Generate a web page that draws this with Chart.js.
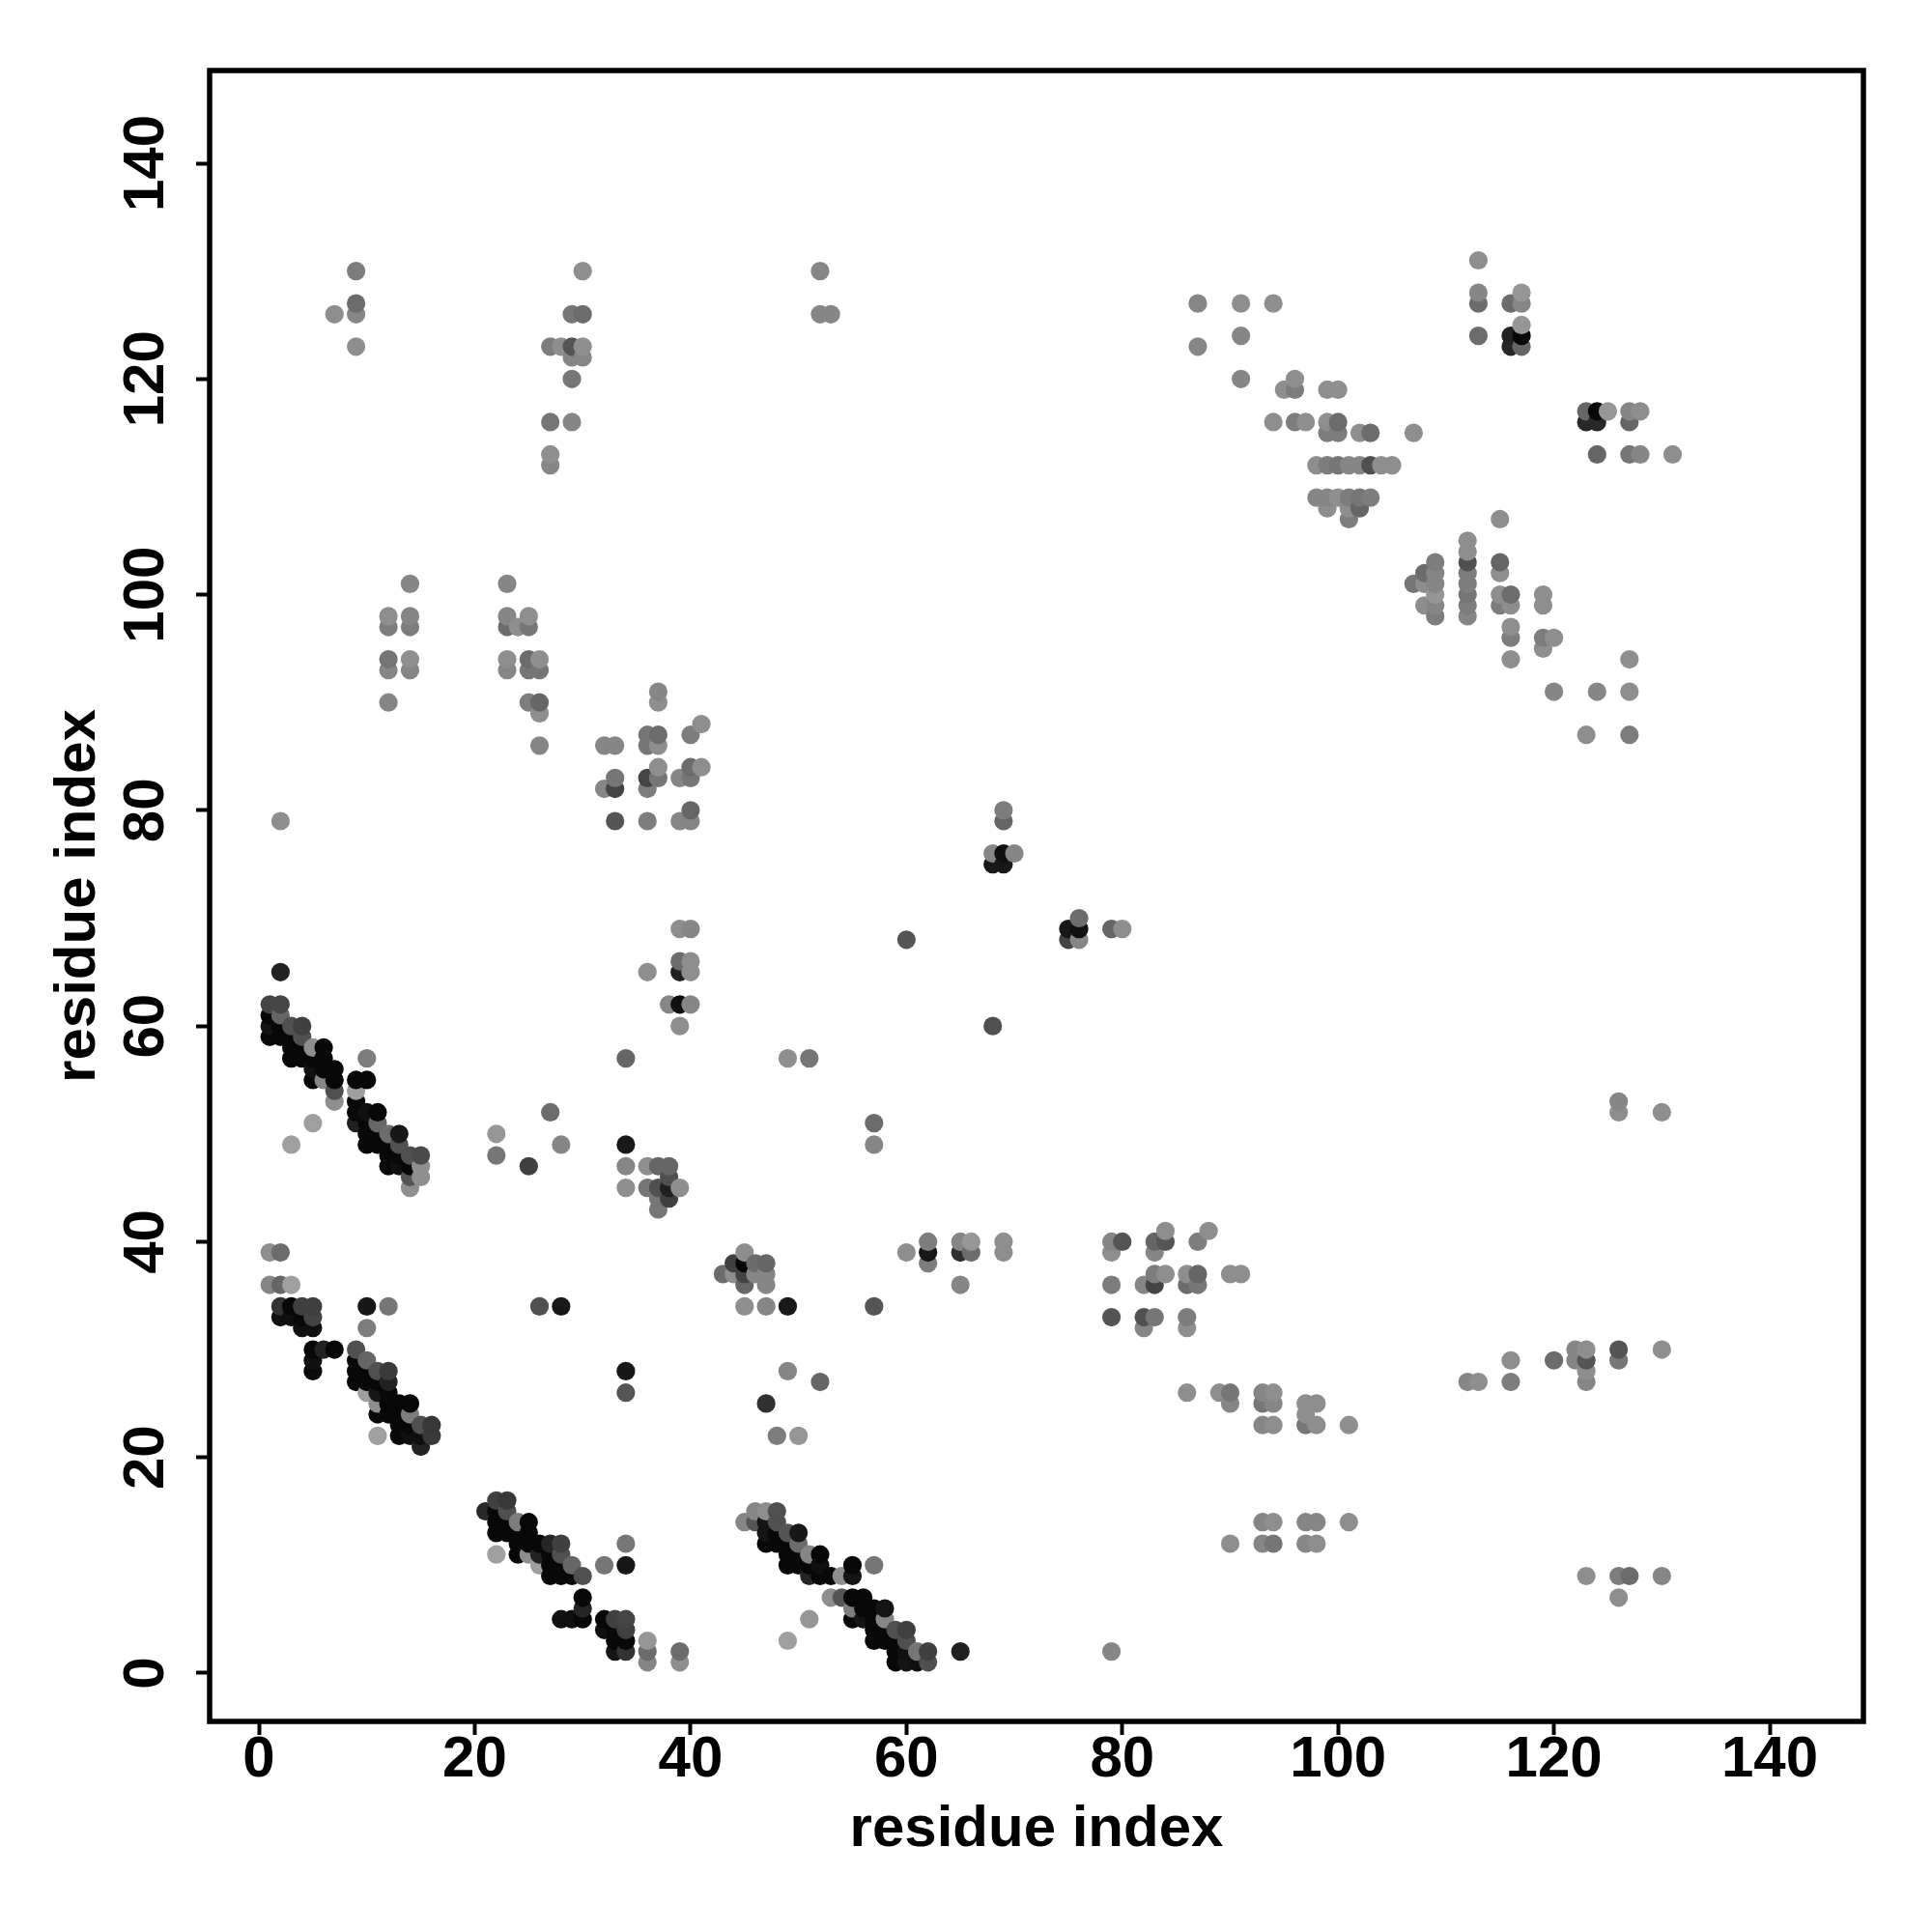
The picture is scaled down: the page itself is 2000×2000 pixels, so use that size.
<!DOCTYPE html>
<html><head><meta charset="utf-8">
<style>html,body{margin:0;padding:0;background:#fff}canvas{display:block}</style>
<script src="https://cdn.jsdelivr.net/npm/chart.js@4"></script></head>
<body><div style="width:2000px;height:2000px"><canvas id="c" width="2000" height="2000"></canvas></div>
<script>
// each entry: [residue i, residue j, grey level]
const helixA=[[2,65,0x22],[1,62,0x45],[2,62,0x45],[2,61,0x60],[1,61,8],[1,60,0x14],[1,59,8],[2,60,8],[2,59,8],[3,60,0x50],[4,60,0x40],[4,59,0x50],[3,59,8],[3,58,8],[3,57,8],[4,58,8],[4,57,8],[5,58,0x88],[6,58,8],[6,57,8],[5,57,8],[6,56,8],[5,56,0x11],[5,55,8],[6,55,0x80],[7,56,8],[7,55,8],[7,54,0x50],[7,53,0x88]];
const helixB=[[10,57,0x77],[9,55,8],[10,55,8],[9,54,0x99],[9,53,8],[9,52,8],[9,51,0x20],[10,52,0x10],[11,52,8],[10,51,8],[11,51,0x60],[10,50,8],[10,49,8],[11,50,8],[11,49,8],[12,50,0x66],[13,50,0x18],[13,49,0x50],[12,49,8],[12,48,8],[12,47,8],[13,48,8],[13,47,0x10],[14,48,0x50],[15,48,0x4a],[14,47,8],[15,47,0x88],[14,46,0x55],[15,46,0x88],[14,45,0x88],[5,51,0x99],[3,49,0x99],[22,50,0x90],[22,48,0x70]];
const helixC=[[1,39,0x88],[2,39,0x66],[1,36,0x80],[2,36,0x60],[3,36,0x99],[2,34,0x33],[3,34,8],[4,34,0x40],[5,34,0x40],[2,33,0x10],[3,33,0x10],[4,33,8],[5,33,0x44],[4,32,0x10],[5,32,0x10],[5,30,8],[6,30,0x22],[7,30,8],[5,29,0x11],[5,28,0x0a],[10,34,0x18],[12,34,0x70],[10,32,0x77]];
const helixD=[[9,30,0x50],[10,29,0x60],[9,29,8],[9,28,8],[9,27,8],[10,28,8],[10,27,8],[11,28,0x50],[12,28,0x3a],[11,27,8],[12,27,0x22],[10,26,0x99],[11,26,0x18],[12,26,8],[11,25,0x88],[12,25,8],[13,25,8],[14,25,8],[11,24,8],[12,24,8],[13,24,8],[14,24,0x77],[15,23,0x50],[16,23,0x38],[13,23,8],[14,23,8],[13,22,8],[14,22,0x10],[15,22,0x10],[16,22,0x3a],[15,21,0x22],[11,22,0x99]];
const helixE=[[21,15,0x28],[22,16,0x40],[23,16,0x38],[23,15,0x50],[22,15,8],[22,14,8],[22,13,8],[23,14,8],[23,13,8],[24,14,0x77],[25,14,8],[24,13,8],[25,13,8],[24,12,8],[24,11,8],[25,12,8],[25,11,0x88],[26,12,8],[26,11,0x22],[26,10,0x99],[27,12,0x25],[28,12,0x40],[27,11,8],[28,11,0x50],[27,10,8],[27,9,8],[28,10,8],[28,9,8],[29,10,0x60],[29,9,8],[30,9,0x50],[22,11,0x99],[32,10,0x70],[34,12,0x70],[34,10,0x18]];
const helixF=[[30,7,8],[30,6,0x25],[30,5,8],[28,5,0x10],[29,5,0x10],[32,5,8],[33,5,0x40],[34,5,0x44],[32,4,0x10],[33,4,8],[34,4,0x40],[33,3,8],[34,3,8],[33,2,0x15],[34,2,0x33],[36,3,0x90],[36,2,0x66],[36,1,0x80],[39,2,0x66],[39,1,0x88]];
const helixG=[[45,14,0x80],[46,15,0x80],[47,15,0x88],[48,15,0x50],[46,14,0x55],[47,14,0x15],[48,14,0x50],[47,13,0x15],[47,12,8],[48,13,8],[48,12,8],[49,13,0x55],[50,13,0x18],[49,12,8],[50,12,0x66],[49,11,8],[49,10,8],[50,11,8],[50,10,8],[51,11,0x80],[52,11,8],[51,10,8],[52,10,0x10],[51,9,0x25],[52,9,8],[53,9,8],[54,9,0x88],[55,10,8],[55,9,0x15],[57,10,0x70]];
const helixH=[[53,7,0x88],[54,7,0x55],[55,7,8],[56,7,8],[55,6,0x77],[56,6,8],[55,5,8],[56,5,0x15],[57,6,8],[58,6,0x15],[57,5,8],[58,5,0x80],[57,4,8],[57,3,8],[58,4,8],[58,3,8],[59,4,0x50],[60,4,0x40],[59,3,8],[60,3,0x50],[59,2,8],[60,2,0x10],[61,2,0x70],[62,2,0x40],[59,1,8],[60,1,0x15],[61,1,0x10],[62,1,0x50],[65,2,0x20],[51,5,0x90],[49,3,0x99],[79,2,0x80]];
const upperLeft=[[2,79,0x88],[7,126,0x88],[9,130,0x77],[9,127,0x66],[9,126,0x80],[9,123,0x88],[30,130,0x88],[29,126,0x70],[30,126,0x66],[27,123,0x77],[28,123,0x88],[29,123,0x55],[30,123,0x88],[29,122,0x80],[30,122,0x80],[29,120,0x70],[27,116,0x70],[29,116,0x80],[27,113,0x88],[27,112,0x80],[52,130,0x80],[52,126,0x80],[53,126,0x80]];
const sheetA=[[14,101,0x80],[12,98,0x88],[14,98,0x80],[12,97,0x77],[14,97,0x77],[12,94,0x70],[14,94,0x88],[12,93,0x80],[14,93,0x80],[12,90,0x80],[23,101,0x80],[23,98,0x80],[25,98,0x88],[23,97,0x66],[24,97,0x88],[25,97,0x70],[23,94,0x88],[23,93,0x80],[25,94,0x66],[26,94,0x88],[25,93,0x70],[26,93,0x70],[25,90,0x77],[26,90,0x60],[26,89,0x88],[26,86,0x80]];
const sheetB=[[37,91,0x80],[37,90,0x88],[36,87,0x70],[37,87,0x66],[36,86,0x70],[37,86,0x88],[41,88,0x88],[40,87,0x77],[32,86,0x80],[33,86,0x80],[37,84,0x88],[37,83,0x70],[36,83,0x44],[36,82,0x77],[40,84,0x66],[41,84,0x88],[39,83,0x80],[40,83,0x70],[33,83,0x70],[32,82,0x80],[33,82,0x44],[33,79,0x55],[36,79,0x77],[39,79,0x80],[40,79,0x80],[40,80,0x60]];
const centre=[[39,69,0x88],[40,69,0x80],[39,66,0x66],[40,66,0x88],[39,65,0x20],[40,65,0x88],[36,65,0x88],[38,62,0x80],[39,62,0x10],[40,62,0x80],[39,60,0x88],[34,57,0x60],[49,57,0x88],[51,57,0x70],[57,51,0x66],[57,49,0x80],[27,52,0x66],[28,49,0x80],[25,47,0x40],[34,49,0x18],[34,47,0x80],[34,45,0x88],[36,47,0x88],[37,47,0x60],[38,47,0x60],[36,45,0x70],[37,45,0x50],[38,45,0x20],[39,45,0x88],[37,44,0x70],[38,44,0x40],[37,43,0x70],[38,46,0x50],[26,34,0x50],[28,34,0x18],[34,28,0x18],[34,26,0x55],[47,25,0x30],[49,28,0x80],[52,27,0x60],[48,22,0x77],[50,22,0x90]];
const mid=[[60,68,0x55],[68,60,0x50],[69,80,0x77],[69,79,0x60],[68,76,0x80],[69,76,0x10],[70,76,0x80],[68,75,0x18],[69,75,0x18],[75,69,0x18],[75,68,0x44],[76,70,0x66],[76,69,0x10],[76,68,0x80],[79,69,0x60],[80,69,0x88]];
const strandA=[[43,37,0x66],[44,37,0x88],[44,38,0x40],[45,38,8],[45,39,0x88],[46,38,0x66],[47,38,0x60],[45,37,0x44],[46,37,0x80],[47,37,0x80],[45,36,0x60],[47,36,0x80],[45,34,0x88],[47,34,0x80],[49,34,0x18],[57,34,0x55],[60,39,0x88],[62,40,0x77],[62,39,0x18],[62,38,0x77],[65,40,0x80],[66,40,0x90],[65,39,0x30],[66,39,0x66],[65,36,0x80],[69,40,0x88],[69,39,0x88]];
const strandB=[[79,40,0x80],[80,40,0x55],[79,39,0x88],[84,41,0x88],[83,40,0x60],[84,40,0x55],[83,39,0x80],[88,41,0x88],[87,40,0x77],[79,36,0x77],[83,37,0x77],[84,37,0x88],[82,36,0x80],[83,36,0x44],[86,37,0x88],[87,37,0x60],[86,36,0x66],[87,36,0x70],[90,37,0x88],[91,37,0x88],[79,33,0x55],[82,33,0x50],[83,33,0x70],[82,32,0x80],[86,33,0x77],[86,32,0x88]];
const lowerRight=[[86,26,0x88],[89,26,0x88],[90,26,0x70],[90,25,0x80],[93,26,0x80],[94,26,0x88],[93,25,0x70],[94,25,0x80],[93,23,0x80],[94,23,0x88],[97,25,0x88],[98,25,0x88],[97,24,0x88],[97,23,0x70],[98,23,0x88],[101,23,0x88],[93,14,0x80],[94,14,0x88],[97,14,0x80],[98,14,0x80],[101,14,0x88],[90,12,0x88],[93,12,0x80],[94,12,0x70],[97,12,0x80],[98,12,0x88],[123,9,0x88],[126,9,0x77],[127,9,0x66],[130,9,0x80],[126,7,0x88],[112,27,0x80],[113,27,0x88],[116,29,0x88],[116,27,0x77],[120,29,0x66],[122,30,0x80],[123,30,0x88],[122,29,0x80],[123,29,0x55],[123,28,0x88],[123,27,0x80],[126,30,0x55],[126,29,0x70],[130,30,0x88],[126,53,0x80],[126,52,0x88],[130,52,0x88]];
const upperRightA=[[87,127,0x80],[87,123,0x80],[91,127,0x88],[91,124,0x80],[91,120,0x80],[94,127,0x88],[95,119,0x88],[96,119,0x77],[96,120,0x88],[99,119,0x88],[100,119,0x88],[94,116,0x88],[96,116,0x77],[97,116,0x88],[99,116,0x88],[100,116,0x66],[99,115,0x77],[100,115,0x77],[102,115,0x88],[103,115,0x66],[107,115,0x88],[98,112,0x88],[99,112,0x77],[100,112,0x70],[101,112,0x80],[102,112,0x80],[103,112,0x50],[104,112,0x88],[105,112,0x88],[98,109,0x80],[99,109,0x80],[100,109,0x88],[101,109,0x77],[102,109,0x70],[103,109,0x77],[99,108,0x88],[101,108,0x88],[102,108,0x60],[101,107,0x77]];
const upperRightB=[[115,107,0x88],[112,105,0x88],[112,104,0x88],[112,103,0x50],[112,102,0x77],[112,101,0x77],[112,100,0x70],[112,99,0x77],[112,98,0x80],[109,103,0x77],[109,102,0x80],[109,101,0x80],[109,100,0x90],[109,99,0x80],[109,98,0x77],[108,102,0x66],[108,101,0x88],[108,99,0x88],[107,101,0x70],[115,103,0x60],[115,102,0x88],[115,100,0x88],[116,100,0x66],[115,99,0x77],[116,99,0x88],[116,97,0x88],[116,96,0x77],[116,94,0x88],[119,100,0x88],[119,99,0x88],[119,96,0x77],[120,96,0x88],[119,95,0x88],[120,91,0x80],[124,91,0x80],[127,94,0x88],[127,91,0x88],[123,87,0x88],[127,87,0x77]];
const upperRightC=[[113,131,0x88],[113,128,0x80],[113,127,0x66],[117,128,0x90],[116,127,0x66],[117,127,0x80],[117,125,0x90],[113,124,0x66],[116,124,0x22],[117,124,8],[116,123,0x28],[117,123,0x60],[123,117,0x60],[124,117,8],[125,117,0x90],[127,117,0x80],[128,117,0x88],[123,116,0x28],[124,116,0x28],[127,116,0x60],[124,113,0x60],[127,113,0x70],[128,113,0x80],[131,113,0x88]];
const axisTicks=[0,20,40,60,80,100,120,140];
const axisTitle='residue index';

const contacts=[...helixA,...helixB,...helixC,...helixD,...helixE,...helixF,...helixG,...helixH,...upperLeft,...sheetA,...sheetB,...centre,...mid,...strandA,...strandB,...lowerRight,...upperRightA,...upperRightB,...upperRightC]
  .sort((a,b)=>a[0]-b[0]||a[1]-b[1]);
const grey=v=>{const g=v>=0x60?v+6:v;return `rgb(${g},${g},${g})`;};

const tickFont={family:'"Liberation Sans"',size:60,weight:'bold'};
const titleFont={family:'"Liberation Sans"',size:60,weight:'bold'};
const frame={id:'frame',afterDraw(c){const a=c.chartArea,g=c.ctx;g.save();g.strokeStyle='#000';g.lineWidth=5.5;g.strokeRect(a.left,a.top,a.right-a.left,a.bottom-a.top);g.restore();}};
new Chart(document.getElementById('c'),{
  type:'scatter',
  data:{datasets:[{data:contacts.map(p=>({x:p[0],y:p[1]})),
    pointRadius:9.6,pointBorderWidth:0,pointHoverRadius:9.6,
    pointBackgroundColor:contacts.map(p=>grey(p[2]))}]},
  options:{responsive:false,animation:false,
    layout:{padding:{top:73,right:71,left:0,bottom:0}},
    plugins:{legend:{display:false},tooltip:{enabled:false}},
    scales:{
      x:{type:'linear',min:-4.57,max:148.68,afterBuildTicks(s){s.ticks=axisTicks.map(v=>({value:v}));},
        afterFit(s){s.height=218;},
        border:{display:false},
        grid:{drawOnChartArea:false,drawTicks:true,tickLength:14,tickWidth:4,tickColor:'#000'},
        ticks:{color:'#000',font:tickFont,padding:-10,maxRotation:0,minRotation:0,autoSkip:false},
        title:{display:true,text:axisTitle,color:'#000',font:titleFont,padding:{top:0,bottom:70}}},
      y:{type:'linear',min:-4.48,max:148.6,afterBuildTicks(s){s.ticks=axisTicks.map(v=>({value:v}));},
        afterFit(s){s.width=217;},
        border:{display:false},
        grid:{drawOnChartArea:false,drawTicks:true,tickLength:14,tickWidth:4,tickColor:'#000'},
        ticks:{color:'#000',font:tickFont,padding:0,minRotation:90,maxRotation:90,crossAlign:'center',autoSkip:false},
        title:{display:true,text:axisTitle,color:'#000',font:titleFont,padding:{top:45,bottom:0}}}
    }},
  plugins:[frame]
});
</script></body></html>
